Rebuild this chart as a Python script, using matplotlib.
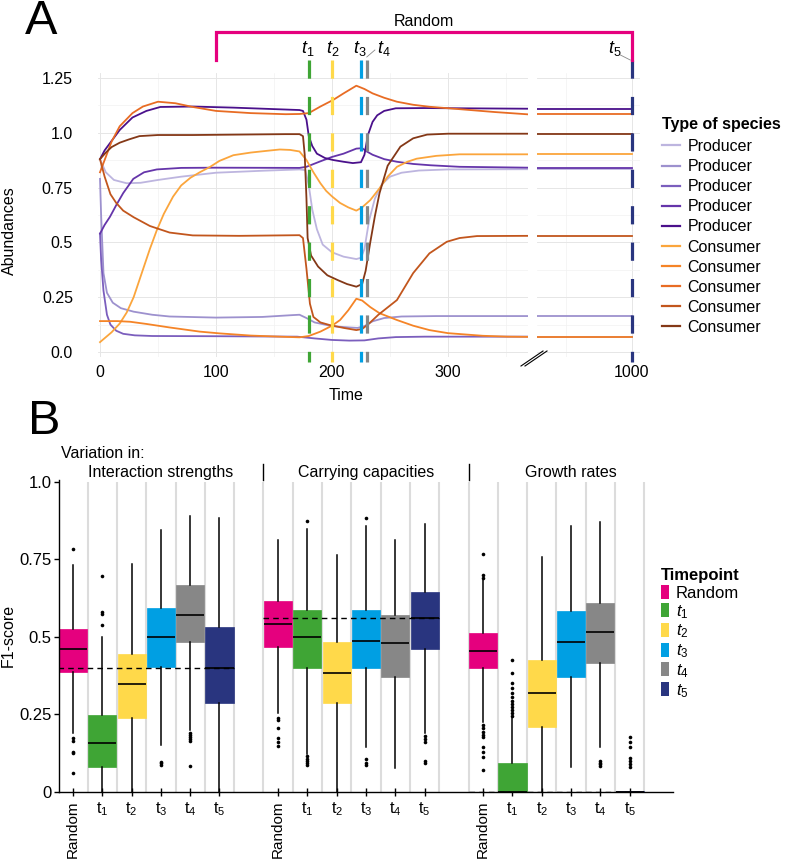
import matplotlib
matplotlib.use('Agg')
import matplotlib.pyplot as plt
from matplotlib.lines import Line2D
from matplotlib.patches import Patch

plt.rcParams.update({
    'font.family': ['Liberation Sans', 'DejaVu Sans'],
    'font.size': 11.5,
    'mathtext.fontset': 'custom',
    'mathtext.rm': 'Liberation Sans',
    'mathtext.it': 'Liberation Sans:italic',
    'mathtext.bf': 'Liberation Sans:bold',
})

# ---------------- panel A data ----------------
t_p1 = [0, 5, 12, 23, 35, 50, 70, 100, 140, 172, 177, 180, 183, 187, 192, 200, 210, 221, 225, 228,
        232, 237, 243, 250, 260, 275, 300, 370, 1000]
y_p1 = [0.88, 0.82, 0.785, 0.77, 0.772, 0.785, 0.8, 0.818, 0.827, 0.833, 0.83, 0.76, 0.65, 0.56, 0.49,
        0.455, 0.435, 0.424, 0.43, 0.47, 0.6, 0.7, 0.765, 0.8, 0.818, 0.828, 0.833, 0.834, 0.834]
t_p2 = [0, 1, 3, 6, 11, 18, 29, 45, 60, 100, 140, 165, 172, 178, 185, 200, 215, 222, 228, 235,
        245, 260, 290, 370, 1000]
y_p2 = [0.79, 0.62, 0.36, 0.27, 0.225, 0.2, 0.184, 0.17, 0.162, 0.157, 0.16, 0.168, 0.17, 0.155, 0.135,
        0.118, 0.112, 0.11, 0.118, 0.14, 0.155, 0.162, 0.164, 0.164, 0.164]
t_p3 = [0, 1, 3, 6, 9, 14, 20, 30, 45, 100, 170, 185, 200, 215, 228, 240, 255, 280, 370, 1000]
y_p3 = [0.54, 0.42, 0.28, 0.17, 0.125, 0.097, 0.083, 0.076, 0.073, 0.072, 0.07, 0.062, 0.055, 0.052,
        0.053, 0.062, 0.068, 0.07, 0.07, 0.07]
t_p4 = [0, 4, 8.6, 14, 20, 28.7, 38, 49, 70, 100, 172, 178, 190, 200, 210, 221, 226, 230, 235, 245,
        256, 270, 285, 310, 370, 1000]
y_p4 = [0.54, 0.58, 0.617, 0.67, 0.725, 0.79, 0.82, 0.833, 0.84, 0.841, 0.84, 0.845, 0.87, 0.89, 0.905,
        0.928, 0.93, 0.915, 0.9, 0.88, 0.868, 0.858, 0.852, 0.845, 0.841, 0.841]
t_p5 = [0, 4, 8.6, 17, 28, 40, 52, 80, 115, 172, 175, 178, 180, 183, 187, 194, 201, 210, 218, 225,
        228, 231, 235, 239, 245, 255, 280, 370, 1000]
y_p5 = [0.88, 0.92, 0.953, 1.013, 1.07, 1.1, 1.118, 1.12, 1.115, 1.104, 1.1, 1.06, 0.985, 0.94, 0.905,
        0.885, 0.876, 0.868, 0.862, 0.866, 0.9, 0.99, 1.05, 1.08, 1.1, 1.112, 1.113, 1.11, 1.11]
t_c1 = [0, 10, 17, 23, 29, 36, 43, 49, 55, 63, 70, 78, 86, 95, 103, 115, 130, 144, 155, 164,
        172, 178, 184, 190, 195, 200, 207, 214, 221, 226, 233, 241, 248, 256, 265, 273, 290, 310, 370, 1000]
y_c1 = [0.045, 0.09, 0.13, 0.18, 0.25, 0.36, 0.47, 0.556, 0.63, 0.709, 0.76, 0.795, 0.82, 0.845, 0.872,
        0.898, 0.91, 0.918, 0.924, 0.922, 0.915, 0.876, 0.82, 0.77, 0.735, 0.71, 0.68, 0.66, 0.645, 0.66,
        0.693, 0.747, 0.8, 0.845, 0.868, 0.882, 0.895, 0.902, 0.902, 0.902]
t_c2 = [0, 15, 26, 40, 60, 86, 103, 130, 155, 172, 180, 190, 200, 207, 214, 221, 226, 233, 241, 256,
        270, 284, 300, 330, 351, 370, 1000]
y_c2 = [0.141, 0.141, 0.138, 0.128, 0.112, 0.093, 0.085, 0.075, 0.07, 0.067, 0.073, 0.093, 0.12, 0.146,
        0.19, 0.243, 0.235, 0.205, 0.177, 0.146, 0.12, 0.1, 0.086, 0.074, 0.07, 0.069, 0.069]
t_c3 = [0, 5, 10, 17, 28, 37, 50, 65, 80, 100, 130, 160, 172, 180, 190, 201, 210, 221, 228, 235,
        245, 256, 270, 284, 310, 340, 370, 1000]
y_c3 = [0.82, 0.89, 0.96, 1.03, 1.09, 1.12, 1.142, 1.135, 1.118, 1.1, 1.09, 1.085, 1.086, 1.09, 1.12,
        1.15, 1.18, 1.215, 1.2, 1.18, 1.16, 1.142, 1.128, 1.119, 1.108, 1.095, 1.084, 1.084]
t_c4 = [0, 4, 9, 14, 20, 29, 43, 60, 80, 120, 172, 175, 178, 181, 184, 190, 198, 210, 221, 226,
        232, 240, 256, 270, 284, 299, 310, 325, 370, 1000]
y_c4 = [0.88, 0.8, 0.72, 0.68, 0.645, 0.615, 0.575, 0.545, 0.532, 0.53, 0.533, 0.52, 0.38, 0.22, 0.16,
        0.135, 0.123, 0.11, 0.1, 0.105, 0.13, 0.17, 0.237, 0.36, 0.45, 0.503, 0.52, 0.529, 0.53, 0.53]
t_c5 = [0, 5, 10, 17, 25, 34, 50, 80, 120, 160, 172, 175, 176.5, 178, 179, 182, 188, 196, 205, 213,
        221, 226, 229, 233, 237, 241, 248, 259, 270, 282, 300, 370, 1000]
y_c5 = [0.88, 0.91, 0.935, 0.955, 0.97, 0.985, 0.99, 0.99, 0.992, 0.994, 0.994, 0.985, 0.9, 0.7, 0.52,
        0.44, 0.39, 0.35, 0.328, 0.31, 0.298, 0.31, 0.37, 0.5, 0.62, 0.725, 0.85, 0.937, 0.975, 0.992,
        0.996, 0.996, 0.996]

species_t = [t_p1, t_p2, t_p3, t_p4, t_p5, t_c1, t_c2, t_c3, t_c4, t_c5]
species_y = [y_p1, y_p2, y_p3, y_p4, y_p5, y_c1, y_c2, y_c3, y_c4, y_c5]
species_labels = ['Producer'] * 5 + ['Consumer'] * 5
species_colors = ['#BDB5DF', '#9D91CE', '#7B5EBD', '#6535AA', '#4A108B',
                  '#FBA53C', '#F58427', '#E86C24', '#C2561D', '#843817']

tp_names = ['Random', '$t_1$', '$t_2$', '$t_3$', '$t_4$', '$t_5$']
tp_colors = ['#E5007E', '#3FA535', '#FFD94A', '#009FE3', '#878787', '#29357F']
tp_times = [180, 200, 225, 230, 1000]      # t1..t5
random_start = 100

# ---------------- panel B data (box statistics) ----------------
box_pos = [0, 1, 2, 3, 4, 5, 7, 8, 9, 10, 11, 12, 14, 15, 16, 17, 18, 19]
box_q1 = [0.388, 0.082, 0.24, 0.402, 0.483, 0.286,
          0.466, 0.399, 0.286, 0.399, 0.37, 0.461,
          0.399, 0.0, 0.209, 0.37, 0.415, 0.0]
box_med = [0.46, 0.159, 0.347, 0.499, 0.571, 0.40,
           0.541, 0.499, 0.385, 0.486, 0.482, 0.562,
           0.455, 0.0, 0.32, 0.484, 0.517, 0.0]
box_q3 = [0.527, 0.248, 0.444, 0.592, 0.666, 0.533,
          0.616, 0.587, 0.483, 0.587, 0.571, 0.644,
          0.512, 0.092, 0.426, 0.585, 0.611, 0.003]
box_lo = [0.19, 0.0, 0.0, 0.152, 0.2, 0.0,
          0.255, 0.122, 0.0, 0.146, 0.076, 0.189,
          0.227, 0.0, 0.0, 0.082, 0.146, 0.0]
box_hi = [0.732, 0.50, 0.735, 0.845, 0.89, 0.885,
          0.813, 0.847, 0.765, 0.858, 0.813, 0.863,
          0.684, 0.238, 0.757, 0.858, 0.87, 0.003]
box_fliers = [
    [0.784, 0.175, 0.165, 0.13, 0.125, 0.06],
    [0.695, 0.58, 0.575, 0.539],
    [],
    [0.097, 0.093, 0.088],
    [0.19, 0.185, 0.178, 0.17, 0.165, 0.084],
    [],
    [0.24, 0.232, 0.205, 0.175, 0.16, 0.148],
    [0.874, 0.115, 0.108, 0.1, 0.093, 0.086],
    [],
    [0.883, 0.105, 0.095, 0.088],
    [],
    [0.18, 0.17, 0.16, 0.1, 0.095],
    [0.767, 0.70, 0.69, 0.216, 0.205, 0.195, 0.185, 0.178, 0.146, 0.13, 0.114, 0.071],
    [0.426, 0.383, 0.35, 0.335, 0.32, 0.307, 0.295, 0.285, 0.275, 0.265, 0.255, 0.245],
    [],
    [],
    [0.1, 0.095, 0.09, 0.085],
    [0.178, 0.162, 0.146, 0.11, 0.1, 0.09, 0.08],
]
group_titles = ['Interaction strengths', 'Carrying capacities', 'Growth rates']
group_centers = [3, 10, 17]

W, H = 790.0, 863.0


def pbox(x0, y0, x1, y1):
    return [x0 / W, 1 - y1 / H, (x1 - x0) / W, (y1 - y0) / H]


fig = plt.figure(figsize=(7.9, 8.63), dpi=100)

# ================= panel A =================
ax1 = fig.add_axes(pbox(98, 73, 528, 357))
ax2 = fig.add_axes(pbox(537, 73, 640, 357))
for ax in (ax1, ax2):
    for t, y, c in zip(species_t, species_y, species_colors):
        ax.plot(t, y, color=c, lw=1.3, zorder=2)
    ax.set_ylim(-0.0228, 1.273)
    for s in ax.spines.values():
        s.set_visible(False)
    ax.set_yticks([0, 0.25, 0.5, 0.75, 1.0, 1.25])
    ax.set_yticks([0.125, 0.375, 0.625, 0.875, 1.125], minor=True)
    ax.grid(which='major', color='#E6E6E6', lw=0.7)
    ax.grid(which='minor', color='#F2F2F2', lw=0.5)
    ax.tick_params(which='both', length=0, labelsize=11.5)
    ax.set_axisbelow(True)
ax1.set_xlim(-1.72, 369)
ax1.set_xticks([0, 100, 200, 300])
ax1.set_xticks([50, 150, 250, 350], minor=True)
ax1.set_yticklabels(['0.0', '0.25', '0.5', '0.75', '1.0', '1.25'])
ax1.tick_params(axis='y', pad=18)
ax1.tick_params(axis='x', pad=6)
ax2.set_xlim(918.1, 1006.9)
ax2.set_xticks([1000])
ax2.set_xticks([943], minor=True)
ax2.tick_params(axis='y', labelleft=False)
ax2.tick_params(axis='x', pad=6)

# timepoint dashed lines
dash_top = 1 + 13 / 284
dash_bot = -5 / 284
for t, c in zip(tp_times, tp_colors[1:]):
    ax = ax1 if t < 500 else ax2
    ax.plot([t, t], [dash_top, dash_bot], transform=ax.get_xaxis_transform(), color=c, lw=2.3,
            ls=(0, (5.7, 5.7)), dash_capstyle='butt', clip_on=False, zorder=4)

# timepoint labels
lab_y = 1 + 20 / 284
ax1.text(tp_times[0] - 1, lab_y, '$t_1$', transform=ax1.get_xaxis_transform(), ha='center',
         va='baseline', fontsize=13)
ax1.text(tp_times[1] + 1, lab_y, '$t_2$', transform=ax1.get_xaxis_transform(), ha='center',
         va='baseline', fontsize=13)
ax1.text(tp_times[2] - 1, lab_y, '$t_3$', transform=ax1.get_xaxis_transform(), ha='center',
         va='baseline', fontsize=13)
ax1.text(tp_times[3] + 15, lab_y, '$t_4$', transform=ax1.get_xaxis_transform(), ha='center',
         va='baseline', fontsize=13)
ax1.plot([tp_times[3], tp_times[3] + 7], [1 + 16 / 284, 1 + 23 / 284], transform=ax1.get_xaxis_transform(),
         color='#888888', lw=0.6, clip_on=False)
ax2.text(tp_times[4] - 15, lab_y, '$t_5$', transform=ax2.get_xaxis_transform(), ha='center',
         va='baseline', fontsize=13)
ax2.plot([tp_times[4] - 10, tp_times[4] - 1.5], [1 + 18 / 284, 1 + 13 / 284],
         transform=ax2.get_xaxis_transform(), color='#888888', lw=0.6, clip_on=False)

# "Random" bracket
fig.canvas.draw()
xl = ax1.transData.transform((random_start, 0))[0] / fig.bbox.width
xr = ax2.transData.transform((tp_times[4], 0))[0] / fig.bbox.width
fig.add_artist(Line2D([xl, xl, xr, xr], [1 - 60 / H, 1 - 32 / H, 1 - 32 / H, 1 - 60 / H],
                      transform=fig.transFigure, color=tp_colors[0], lw=2.3, solid_joinstyle='miter'))
fig.text((xl + xr) / 2, 1 - 21.5 / H, 'Random', ha='center', va='center', fontsize=11.5)

# axis break marks
for dx in (0, 4):
    fig.add_artist(Line2D([(521 + dx) / W, (543 + dx) / W], [1 - 366 / H, 1 - 351 / H],
                          transform=fig.transFigure, color='black', lw=0.8))

fig.text(346 / W, 1 - 395 / H, 'Time', ha='center', va='center', fontsize=11.5)
fig.text(9 / W, 1 - 231 / H, 'Abundances', ha='center', va='center', rotation=90, fontsize=11.5)
fig.text(41 / W, 1 - 21 / H, 'A', ha='center', va='center', fontsize=35)

handles_a = [Line2D([], [], color=c, lw=1.6) for c in species_colors]
fig.text(662 / W, 1 - 124 / H, 'Type of species', ha='left', va='center', fontsize=11.5,
         fontweight='bold')
fig.legend(handles_a, species_labels, loc='upper left',
           bbox_to_anchor=(662 / W, 1 - 139 / H), frameon=False, handlelength=1.1, handletextpad=0.5,
           labelspacing=0.32, borderpad=0, borderaxespad=0, fontsize=11.5)

# ================= panel B =================
axb = fig.add_axes(pbox(59, 480, 673, 792))
stats = []
for i in range(len(box_pos)):
    stats.append(dict(med=box_med[i], q1=box_q1[i], q3=box_q3[i], whislo=box_lo[i],
                      whishi=box_hi[i], fliers=box_fliers[i]))
bp = axb.bxp(stats, positions=box_pos, widths=0.96, patch_artist=True, showcaps=False,
             medianprops=dict(color='black', lw=1.2),
             whiskerprops=dict(color='black', lw=1.1),
             flierprops=dict(marker='o', markersize=2.6, markerfacecolor='black', markeredgecolor='none'),
             manage_ticks=False, zorder=2)
for i, b in enumerate(bp['boxes']):
    c = tp_colors[i % 6]
    b.set_facecolor(c)
    b.set_edgecolor(c)
    b.set_linewidth(0.5)

# separators between boxes
half_pos = [p + 0.5 for p in range(0, 20)]
axb.vlines(half_pos, 0, 1.0, color='#DCDCDC', lw=1.5, zorder=0)

# t5 median reference per group
for g in range(3):
    med5 = box_med[g * 6 + 5]
    axb.hlines(med5, box_pos[g * 6] - 0.5, box_pos[g * 6 + 5] + 0.5, colors='black', lw=1.0,
               linestyles=(0, (4, 3)), zorder=5)

axb.set_xlim(-0.478, 20.48)
axb.set_ylim(0, 1.006)
axb.spines['top'].set_visible(False)
axb.spines['right'].set_visible(False)
axb.spines['left'].set_linewidth(1.0)
axb.spines['bottom'].set_linewidth(1.0)
axb.set_yticks([0, 0.25, 0.5, 0.75, 1.0])
axb.set_yticklabels(['0', '0.25', '0.5', '0.75', '1.0'])
axb.tick_params(axis='y', length=3.5, width=1.0, labelsize=12, pad=2)
axb.set_xticks(box_pos)
xt_labels = ['Random', 't$_1$', 't$_2$', 't$_3$', 't$_4$', 't$_5$'] * 3
axb.set_xticklabels(xt_labels)
axb.tick_params(axis='x', direction='inout', length=6, width=1.0, labelsize=11.5, pad=3)
for lab in axb.get_xticklabels():
    if lab.get_text() == 'Random':
        lab.set_rotation(90)
        lab.set_va('top')
        lab.set_fontsize(11)

xtr = axb.get_xaxis_transform()
for p in (6.5, 13.5):
    axb.plot([p, p], [1.0, 1 + 16 / 312], transform=xtr, color='black', lw=1.0, clip_on=False)
for c, title in zip(group_centers, group_titles):
    axb.text(c, 1 + 8 / 312, title, transform=xtr, ha='center', va='center', fontsize=11.5)
axb.text(-0.42, 1 + 27 / 312, 'Variation in:', transform=xtr, ha='left', va='center', fontsize=11.5)

fig.text(8 / W, 1 - 635 / H, 'F1-score', ha='center', va='center', rotation=90, fontsize=11.5)
fig.text(44 / W, 1 - 422 / H, 'B', ha='center', va='center', fontsize=35)

handles_b = [Patch(facecolor=c, edgecolor='none') for c in tp_colors]
fig.legend(handles_b, tp_names, title='Timepoint', loc='upper left',
           bbox_to_anchor=(658 / W, 1 - 565 / H), frameon=False, handlelength=0.45, handleheight=0.9,
           handletextpad=0.4, labelspacing=0.12, borderpad=0.2, borderaxespad=0, alignment='left',
           fontsize=12, title_fontproperties={'weight': 'bold', 'size': 12})

fig.savefig('out.png', dpi=100)
